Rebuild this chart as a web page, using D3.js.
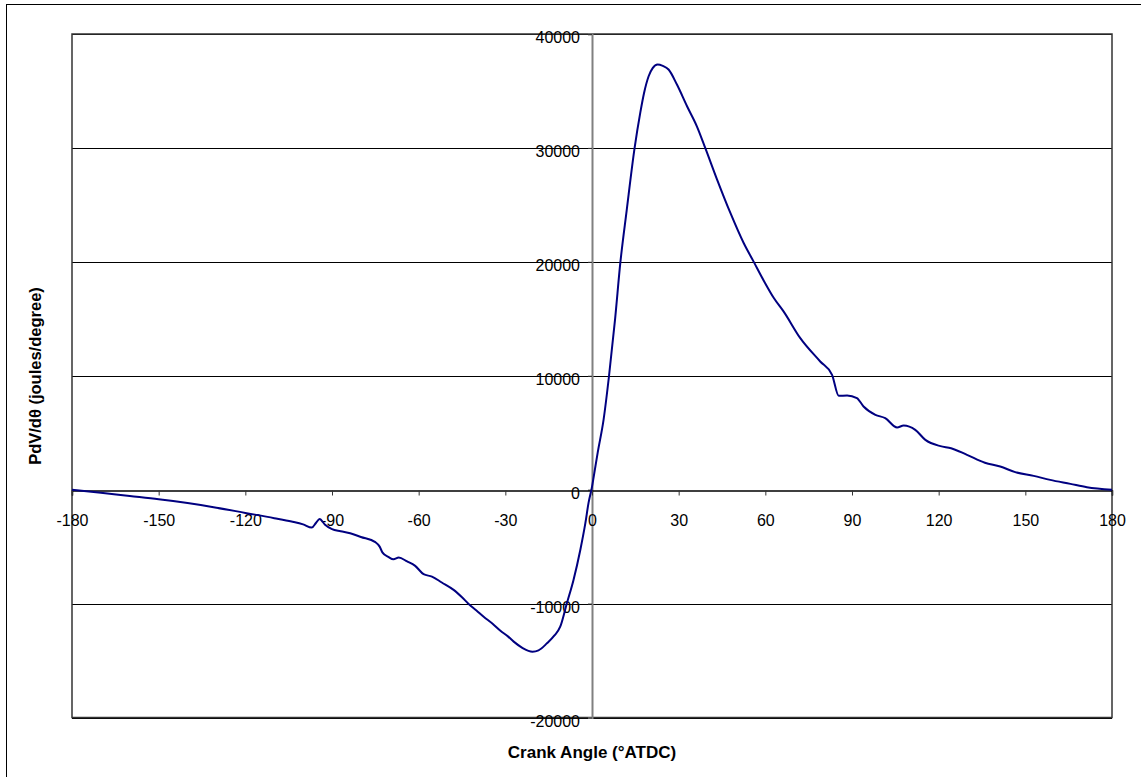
<!DOCTYPE html>
<html>
<head>
<meta charset="utf-8">
<script src="https://cdn.jsdelivr.net/npm/d3@7"></script>
<style>
  body { margin: 0; background: #fff; }
  svg { display: block; font-family: "Liberation Sans", Arial, sans-serif; }
</style>
</head>
<body>
<div id="chart"></div>
<script>
// crank angle (deg ATDC) and PdV/dθ (J/deg)
const angles = [
  -180, -170, -160, -150, -140, -130, -120, -110, -104, -100, -97, -95.5, -94.3, -92.5, -90,
  -87, -83.7, -80, -75, -73.5, -72.5, -70.5, -68.7, -66.9, -64, -61.2, -58.3, -55.4, -52,
  -47.9, -45, -42.7, -40, -37.5, -34.5, -31.7, -29, -27.1, -24, -22, -20.6, -18.5, -15.6,
  -13, -11, -8.7, -6.4, -4.05, -2.3, -1.2, 0, 0.6, 2, 4, 5.9, 8, 9.8, 12, 14.75,
  16.7, 18, 19.6, 21, 22.7, 24.5, 26.5, 29.4, 32.9, 36.3, 39.2, 43.3, 47.9, 52.5, 55.9,
  59.6, 63, 66.3, 72.1, 79, 83.1, 85.4, 88.3, 91.7, 94, 98.1, 101.5, 105.6, 107.9, 111.9,
  115.4, 120.6, 124.3, 129.8, 136, 141.3, 146.5, 152.9, 158.6, 165.6, 171.3, 180
];
const pdv = [
  0, -280, -560, -840, -1180, -1580, -2040, -2500, -2800, -3050, -3330, -2900, -2580, -3050, -3470,
  -3650, -3820, -4150, -4610, -5000, -5530, -5900, -6110, -5960, -6300, -6690, -7420, -7630, -8150,
  -8800, -9450, -10030, -10600, -11150, -11750, -12380, -12900, -13340, -13900, -14150, -14220, -14100, -13490,
  -12800, -12030, -9970, -7920, -5290, -2940, -1160, 250, 1150, 3300, 6130, 10000, 15000, 19900, 24500, 30000,
  33070, 34800, 36290, 37000, 37320, 37200, 36880, 35560, 33660, 31900, 30000, 27220, 24290, 21650, 20040,
  18280, 16800, 15650, 13300, 11250, 10080, 8240, 8270, 8040, 7300, 6570, 6280, 5460, 5630, 5250,
  4370, 3820, 3640, 3060, 2360, 2030, 1540, 1210, 860, 510, 220, 0
];
const xTicks = [-180, -150, -120, -90, -60, -30, 0, 30, 60, 90, 120, 150, 180];
const yTicks = [-20000, -10000, 0, 10000, 20000, 30000, 40000];

const width = 1141, height = 777;
const plot = { left: 72, right: 1112, top: 34, bottom: 717.5 };

const svg = d3.select("#chart").append("svg")
  .attr("width", width)
  .attr("height", height);

// outer chart border (right/bottom edges fall outside the frame)
svg.append("rect")
  .attr("x", 6.5).attr("y", 4.5)
  .attr("width", width + 20).attr("height", height + 20)
  .attr("fill", "none")
  .attr("stroke", "#000")
  .attr("stroke-width", 1);

const x = d3.scaleLinear().domain([-180, 180]).range([plot.left, plot.right]);
const y = d3.scaleLinear().domain([-20000, 40000]).range([plot.bottom, plot.top]);

// horizontal gridlines
svg.append("g")
  .selectAll("line")
  .data(yTicks.filter(d => d !== 0))
  .join("line")
  .attr("x1", plot.left).attr("x2", plot.right)
  .attr("y1", d => Math.round(y(d)) + 0.5).attr("y2", d => Math.round(y(d)) + 0.5)
  .attr("stroke", "#000")
  .attr("stroke-width", 1);

// plot area border
svg.append("rect")
  .attr("x", plot.left).attr("y", plot.top)
  .attr("width", plot.right - plot.left).attr("height", plot.bottom - plot.top)
  .attr("fill", "none")
  .attr("stroke", "#333")
  .attr("stroke-width", 1.5);

// y axis, drawn at crank angle 0
const yAxis = d3.axisLeft(y).tickValues(yTicks).tickSize(4).tickFormat(d => String(d));
const gy = svg.append("g")
  .attr("transform", `translate(${x(0)},0)`)
  .call(yAxis);
gy.select(".domain").attr("stroke", "#808080").attr("stroke-width", 2);
gy.selectAll(".tick line").attr("stroke", "#333");
gy.selectAll(".tick text")
  .attr("x", -12)
  .attr("dy", "0.55em")
  .attr("font-size", 16)
  .attr("font-family", "Liberation Sans, Arial, sans-serif")
  .attr("fill", "#000");

// x axis, drawn at PdV/dθ = 0
const xAxis = d3.axisBottom(x).tickValues(xTicks).tickSize(5).tickFormat(d => String(d));
const gx = svg.append("g")
  .attr("transform", `translate(0,${Math.round(y(0)) + 0.5})`)
  .call(xAxis);
gx.select(".domain").attr("stroke", "#000").attr("stroke-width", 1.5);
gx.selectAll(".tick line").attr("stroke", "#333");
gx.selectAll(".tick text")
  .attr("y", 30)
  .attr("dy", "0.32em")
  .attr("font-size", 16)
  .attr("font-family", "Liberation Sans, Arial, sans-serif")
  .attr("fill", "#000");

// the curve
const points = angles.map((a, i) => [a, pdv[i]]);
const line = d3.line()
  .x(d => x(d[0]))
  .y(d => y(d[1]))
  .curve(d3.curveMonotoneX);

svg.append("path")
  .datum(points)
  .attr("d", line)
  .attr("fill", "none")
  .attr("stroke", "#000080")
  .attr("stroke-width", 2)
  .attr("stroke-linejoin", "round");

// axis titles
svg.append("text")
  .attr("x", 592).attr("y", 758)
  .attr("text-anchor", "middle")
  .attr("font-size", 17)
  .attr("font-weight", "bold")
  .text("Crank Angle (°ATDC)");

svg.append("text")
  .attr("transform", "translate(41,376) rotate(-90)")
  .attr("text-anchor", "middle")
  .attr("font-size", 16.5)
  .attr("font-weight", "bold")
  .text("PdV/dθ (joules/degree)");
</script>
</body>
</html>
